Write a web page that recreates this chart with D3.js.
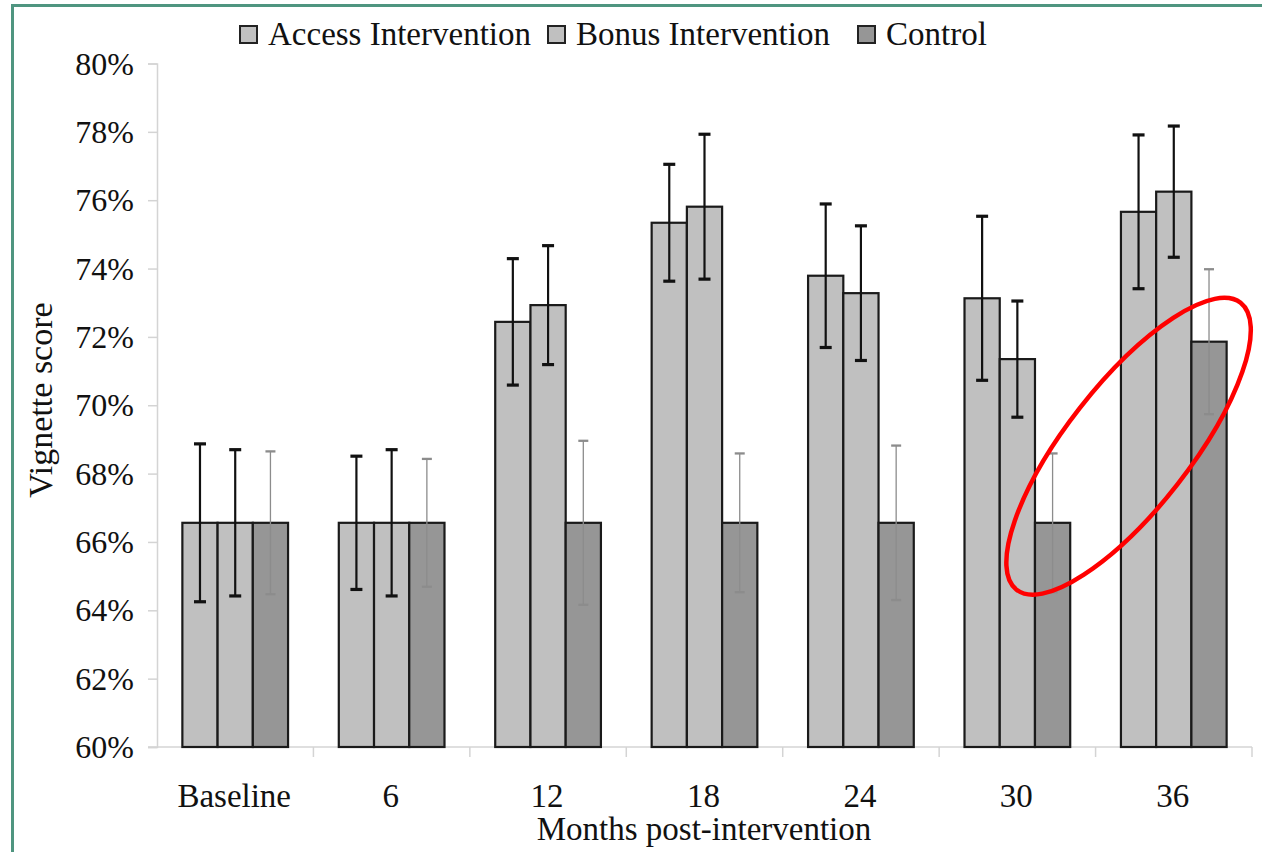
<!DOCTYPE html>
<html lang="en">
<head>
    <meta charset="utf-8">
    <title>vignette.html</title>
    <script type="text/javascript" src="https://cdnjs.cloudflare.com/ajax/libs/d3/7.8.5/d3.min.js"></script>
    <style>
      body { margin: 0; background: #fff; }
      text { font-family: "Liberation Serif", "Times New Roman", serif; fill: #111; }
    </style>
</head>
<body>
    <script type="text/javascript">
      //data
      var months = ["Baseline", "6", "12", "18", "24", "30", "36"];
      var series = ["Access Intervention", "Bonus Intervention", "Control"];
      var access = [66.56, 66.56, 72.44, 75.34, 73.79, 73.13, 75.66];
      var bonus = [66.56, 66.56, 72.93, 75.81, 73.28, 71.35, 76.25];
      var control = [66.56, 66.56, 66.56, 66.56, 66.56, 66.56, 71.86];
      var accessErr = [2.31, 1.95, 1.85, 1.71, 2.10, 2.40, 2.25];
      var bonusErr = [2.14, 2.14, 1.74, 2.12, 1.97, 1.70, 1.92];
      var controlErr = [2.09, 1.87, 2.40, 2.03, 2.26, 2.03, 2.12];
      var yTicks = [60, 62, 64, 66, 68, 70, 72, 74, 76, 78, 80];

      var values = [access, bonus, control],
          errors = [accessErr, bonusErr, controlErr],
          fills = ["#c0c0c0", "#c0c0c0", "#969696"],
          errColor = ["#111", "#111", "#8c8c8c"],
          errWidth = [2.2, 2.2, 1.3];

      //initialize the dimensions
      var width = 1262, height = 852,
          plotLeft = 157, plotRight = 1252, plotTop = 63.5, plotBottom = 747;

      var svg = d3.select("body")
                  .append("svg")
                  .attr("width", width)
                  .attr("height", height);

      //teal frame
      svg.append("path")
         .attr("d", "M12.5,862 L12.5,5.5 L1270,5.5")
         .attr("fill", "none")
         .attr("stroke", "#4f9580")
         .attr("stroke-width", 3);

      var yScale = d3.scaleLinear().domain([60, 80]).range([plotBottom, plotTop]);

      var xScale = d3.scaleBand().domain(months).range([plotLeft, plotRight]).paddingInner(0).paddingOuter(0);

      var inner = d3.scaleBand().domain(d3.range(3)).range([0, xScale.bandwidth()]).paddingOuter(0.72).paddingInner(0);

      //y axis
      var yAxis = d3.axisLeft(yScale)
                    .tickValues(yTicks)
                    .tickSize(9)
                    .tickPadding(14)
                    .tickFormat(function(d) { return d + "%"; });

      var gy = svg.append("g")
         .attr("transform", "translate(" + plotLeft + ",0)")
         .call(yAxis);
      gy.select(".domain").attr("stroke", "#d4d4d4").attr("stroke-width", 1.5);
      gy.selectAll(".tick line").attr("stroke", "#d4d4d4").attr("stroke-width", 1.5);
      gy.selectAll(".tick text")
        .style("font-size", "32px")
        .style("font-family", "'Liberation Serif', serif")
        .attr("fill", "#111")
        .attr("dy", "0.33em");

      //x axis with ticks between categories
      var gx = svg.append("g")
         .attr("transform", "translate(0," + plotBottom + ")");
      gx.append("line")
        .attr("x1", plotLeft - 9).attr("x2", plotRight)
        .attr("stroke", "#d4d4d4").attr("stroke-width", 1.5);
      gx.selectAll(".sep")
        .data(months)
        .enter().append("line")
        .attr("x1", function(d) { return xScale(d) + xScale.bandwidth(); })
        .attr("x2", function(d) { return xScale(d) + xScale.bandwidth(); })
        .attr("y1", 0).attr("y2", 10)
        .attr("stroke", "#d4d4d4").attr("stroke-width", 1.5);
      gx.selectAll(".lab")
        .data(months)
        .enter().append("text")
        .attr("x", function(d) { return xScale(d) + xScale.bandwidth() / 2 - 1; })
        .attr("y", 60)
        .attr("text-anchor", "middle")
        .style("font-size", "33px")
        .text(function(d) { return d; });

      //bars
      series.forEach(function(s, k) {
        svg.append("g").selectAll("rect")
           .data(values[k])
           .enter().append("rect")
           .attr("x", function(d, i) { return xScale(months[i]) + inner(k); })
           .attr("y", function(d) { return yScale(d); })
           .attr("width", inner.bandwidth())
           .attr("height", function(d) { return yScale(60) - yScale(d); })
           .attr("fill", fills[k])
           .attr("stroke", "#1a1a1a")
           .attr("stroke-width", 2.2);
      });

      //error bars
      series.forEach(function(s, k) {
        var g = svg.append("g")
                   .attr("stroke", errColor[k])
                   .attr("stroke-width", errWidth[k]);
        values[k].forEach(function(v, i) {
          var cx = xScale(months[i]) + inner(k) + inner.bandwidth() / 2,
              hi = yScale(v + errors[k][i]),
              lo = yScale(v - errors[k][i]),
              w = k == 2 ? 5 : 6;
          g.append("line").attr("x1", cx).attr("x2", cx).attr("y1", hi).attr("y2", lo);
          g.append("line").attr("x1", cx - w).attr("x2", cx + w).attr("y1", hi).attr("y2", hi)
           .attr("stroke-width", errWidth[k] + 1);
          g.append("line").attr("x1", cx - w).attr("x2", cx + w).attr("y1", lo).attr("y2", lo)
           .attr("stroke-width", errWidth[k] + 1);
        });
      });

      //legend
      var legendX = [240, 548, 858];
      var legend = svg.append("g");
      series.forEach(function(s, k) {
        legend.append("rect")
              .attr("x", legendX[k]).attr("y", 26)
              .attr("width", 17).attr("height", 17)
              .attr("fill", fills[k])
              .attr("stroke", "#222").attr("stroke-width", 2);
        legend.append("text")
              .attr("x", legendX[k] + 28).attr("y", 45)
              .style("font-size", "33px")
              .text(s);
      });

      //axis titles
      svg.append("text")
         .attr("x", 704).attr("y", 840)
         .attr("text-anchor", "middle")
         .style("font-size", "33px")
         .text("Months post-intervention");

      svg.append("text")
         .attr("transform", "translate(52,400) rotate(-90)")
         .attr("text-anchor", "middle")
         .style("font-size", "34px")
         .text("Vignette score");

      //red annotation ellipse around the last two control bars
      var ex = xScale("36") + 33, ey = yScale(68.8);
      svg.append("ellipse")
         .attr("cx", ex).attr("cy", ey)
         .attr("rx", 182).attr("ry", 62)
         .attr("transform", "rotate(-52," + ex + "," + ey + ")")
         .attr("fill", "none")
         .attr("stroke", "#ff0000")
         .attr("stroke-width", 4.5);
    </script>
</body>
</html>
